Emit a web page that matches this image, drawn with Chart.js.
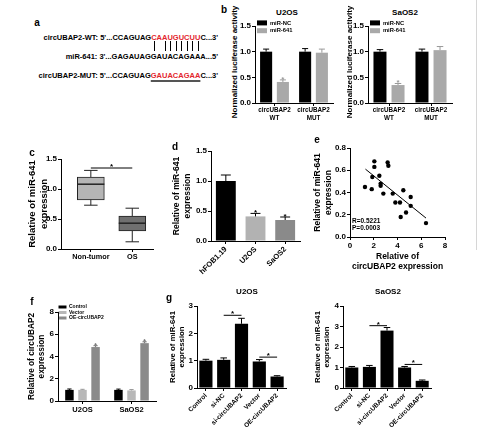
<!DOCTYPE html>
<html>
<head>
<meta charset="utf-8">
<script src="https://cdn.jsdelivr.net/npm/chart.js@4"></script>
<style>
body{margin:0;background:#fff;width:480px;height:427px;position:relative;overflow:hidden;font-family:"Liberation Sans",Arial,sans-serif;font-weight:bold;color:#000}
canvas{position:absolute}
.t{position:absolute;white-space:nowrap;line-height:1}
.seq{position:absolute;right:262px;font-size:7.5px;line-height:9px;white-space:nowrap}
.r{color:#e3262d}
.p{position:relative}
.p::after{content:'';position:absolute;left:50%;top:8px;height:10px;border-left:1px solid #000}
.u{text-decoration:underline;text-decoration-color:#555;text-decoration-thickness:1.5px;text-underline-offset:1.5px}
#edge{position:absolute;left:476px;top:0;width:1px;height:250px;background:#d6d6d6}
</style>
</head>
<body>
<div class="seq" style="top:33px">circUBAP2-WT: 5'...CCAGUAG<span class="r"><span class="p">C</span>A<span class="p">A</span><span class="p">U</span><span class="p">G</span><span class="p">U</span><span class="p">C</span><span class="p">U</span><span class="p">U</span></span>C...3'</div>
<div class="seq" style="top:52px">miR-641: 3'...GAGAUAGGAUACAGAAA...5'</div>
<div class="seq" style="top:71px">circUBAP2-MUT: 5'...CCAGUAG<span class="r u">GAUACAGAA</span>C...3'</div>
<div id="edge"></div>
<script>
const FONT = '"Liberation Sans", Arial, sans-serif';
Chart.defaults.font.family = FONT;
Chart.defaults.color = '#000';

// b: luciferase reporter
const lucGroups = [['circUBAP2', 'WT'], ['circUBAP2', 'MUT']];
const lucU2osNC = [1.0, 1.0];
const lucU2osNCErr = [0.05, 0.06];
const lucU2os641 = [0.41, 0.98];
const lucU2os641Err = [0.04, 0.07];
const lucSaosNC = [1.0, 1.0];
const lucSaosNCErr = [0.04, 0.05];
const lucSaos641 = [0.35, 1.03];
const lucSaos641Err = [0.03, 0.07];

// c: tissue box plot
const tissue = ['Non-tumor', 'OS'];
const boxMin = [0.73, 0.12];
const boxQ1 = [0.82, 0.30];
const boxMed = [1.08, 0.43];
const boxQ3 = [1.20, 0.55];
const boxMax = [1.31, 0.68];

// d: cell lines
const cellLines = ['hFOB1.19', 'U2OS', 'SaOS2'];
const cellExpr = [1.0, 0.41, 0.35];
const cellErr = [0.10, 0.05, 0.05];

// e: correlation
const corrX = [1.26, 1.88, 1.83, 2.05, 2.05, 2.47, 2.58, 2.58, 2.81, 3.17, 3.23, 3.6, 3.82, 4.21, 4.27, 4.49, 4.72, 5.11, 5.11, 6.4];
const corrY = [0.45, 0.54, 0.43, 0.68, 0.63, 0.55, 0.48, 0.46, 0.39, 0.67, 0.64, 0.39, 0.31, 0.31, 0.18, 0.42, 0.22, 0.36, 0.28, 0.125];
const fitX = [1.3, 6.4];
const fitY = [0.61, 0.17];

// f: overexpression
const oeCells = ['U2OS', 'SaOS2'];
const oeControl = [1.0, 1.0];
const oeControlErr = [0.08, 0.07];
const oeVector = [1.0, 0.95];
const oeVectorErr = [0.05, 0.08];
const oeCirc = [4.85, 5.2];
const oeCircErr = [0.12, 0.12];

// g: rescue
const gGroups = ['Control', 'si-NC', 'si-circUBAP2', 'Vector', 'OE-circUBAP2'];
const gU2os = [1.0, 1.03, 2.35, 0.97, 0.42];
const gU2osErr = [0.05, 0.07, 0.2, 0.07, 0.03];
const gSaos = [1.0, 1.03, 2.8, 1.0, 0.35];
const gSaosErr = [0.05, 0.07, 0.15, 0.05, 0.04];

const fnt = (size, lh) => ({family: FONT, weight: 'bold', size: size, lineHeight: lh || 1.2});

function star(ctx, x, y, color) {
  ctx.fillStyle = color;
  ctx.font = 'bold 8px ' + FONT;
  ctx.textAlign = 'center';
  ctx.textBaseline = 'alphabetic';
  ctx.fillText('*', x, y + 4);
}

// error bars, stars, whiskers and significance lines
const marks = {
  id: 'marks',
  afterDatasetsDraw(chart, args, opts) {
    const ctx = chart.ctx, ys = chart.scales.y, xs = chart.scales.x;
    ctx.save();
    ctx.lineWidth = 1;
    chart.data.datasets.forEach((ds, i) => {
      const bars = chart.getDatasetMeta(i).data;
      if (ds.err) bars.forEach((bar, j) => {
        const top = ys.getPixelForValue(ds.data[j] + ds.err[j]);
        const cap = bar.width * 0.25;
        const col = ds.errColor || '#000';
        ctx.strokeStyle = col;
        ctx.beginPath();
        ctx.moveTo(bar.x, bar.y);
        ctx.lineTo(bar.x, top);
        ctx.moveTo(bar.x - cap, top);
        ctx.lineTo(bar.x + cap, top);
        ctx.stroke();
        if (ds.star && ds.star[j]) star(ctx, bar.x, top - 2, col);
      });
      if (ds.whisker) bars.forEach((bar, j) => {
        const w = ds.whisker, cap = bar.width * 0.25, half = bar.width / 2;
        const p = v => ys.getPixelForValue(v);
        ctx.strokeStyle = '#222';
        ctx.beginPath();
        ctx.moveTo(bar.x, p(w.q3[j])); ctx.lineTo(bar.x, p(w.hi[j]));
        ctx.moveTo(bar.x - cap, p(w.hi[j])); ctx.lineTo(bar.x + cap, p(w.hi[j]));
        ctx.moveTo(bar.x, p(w.q1[j])); ctx.lineTo(bar.x, p(w.lo[j]));
        ctx.moveTo(bar.x - cap, p(w.lo[j])); ctx.lineTo(bar.x + cap, p(w.lo[j]));
        ctx.stroke();
        ctx.lineWidth = 1.5;
        ctx.beginPath();
        ctx.moveTo(bar.x - half, p(w.mid[j])); ctx.lineTo(bar.x + half, p(w.mid[j]));
        ctx.stroke();
        ctx.lineWidth = 1;
      });
    });
    (opts.sig || []).forEach(s => {
      const x1 = xs.getPixelForValue(s.a), x2 = xs.getPixelForValue(s.b), y = ys.getPixelForValue(s.v);
      ctx.strokeStyle = '#000';
      ctx.beginPath();
      ctx.moveTo(x1, y); ctx.lineTo(x2, y);
      ctx.stroke();
      star(ctx, (x1 + x2) / 2, y - 3, '#000');
    });
    ctx.restore();
  }
};

function yAx(max, step, title, tsize, dec) {
  return {
    min: 0, max: max,
    ticks: {stepSize: step, font: fnt(8), padding: 1, callback: v => dec ? v.toFixed(1) : String(v)},
    grid: {display: true, drawOnChartArea: false, tickLength: 3, color: '#000'},
    border: {display: true, color: '#000', width: 1},
    title: {display: !!title, text: title || '', font: fnt(tsize), padding: 0}
  };
}

function xAx(font, rot, extra) {
  return Object.assign({
    ticks: {font: font, padding: 1, minRotation: rot, maxRotation: rot, autoSkip: false},
    grid: {display: true, drawOnChartArea: false, tickLength: 3, color: '#000', offset: false},
    border: {display: true, color: '#000', width: 1}
  }, extra || {});
}

// plot = chart area on the page, m = room left for axes
function mk(plot, m, cfg) {
  const c = document.createElement('canvas');
  const left = Math.round(plot.l - m.l), top = Math.round(plot.t - m.t);
  const w = Math.round(plot.r + m.r) - left, h = Math.round(plot.b + m.b) - top;
  c.width = w; c.height = h;
  c.style.left = left + 'px'; c.style.top = top + 'px';
  c.style.width = w + 'px'; c.style.height = h + 'px';
  document.body.appendChild(c);
  const o = cfg.options;
  o.responsive = false;
  o.animation = false;
  o.devicePixelRatio = 1;
  o.events = [];
  o.layout = {padding: {left: 0, top: plot.t - top, right: left + w - plot.r, bottom: 0}};
  o.scales.y.afterFit = s => { s.width = plot.l - left; };
  o.scales.x.afterFit = s => { s.height = top + h - plot.b; };
  o.plugins = Object.assign({tooltip: {enabled: false}, legend: {display: false}}, o.plugins || {});
  cfg.plugins = [marks];
  return new Chart(c, cfg);
}

function txt(html, x, y, size, align) {
  const d = document.createElement('div');
  d.className = 't';
  d.innerHTML = html;
  d.style.fontSize = size + 'px';
  d.style.left = x + 'px';
  d.style.top = y + 'px';
  d.style.transform = align === 'left' ? 'translate(0,-50%)'
    : align === 'up' ? 'translate(-50%,-50%) rotate(-90deg)' : 'translate(-50%,-50%)';
  document.body.appendChild(d);
}

const chartLegend = (size, box, bh, pad) => ({
  display: true, position: 'chartArea', align: 'start',
  labels: {boxWidth: box, boxHeight: bh, padding: pad, font: fnt(size), color: '#000'}
});

// b
function lucChart(plot, ml, nc, ncErr, mir, mirErr) {
  mk(plot, {l: ml, t: 8, r: 6, b: 20}, {
    type: 'bar',
    data: {
      labels: lucGroups,
      datasets: [
        {label: 'miR-NC', data: nc, err: ncErr, backgroundColor: '#000', borderWidth: 0},
        {label: 'miR-641', data: mir, err: mirErr, star: [true, false], errColor: '#999', backgroundColor: '#a9a9a9', borderWidth: 0}
      ]
    },
    options: {
      datasets: {bar: {categoryPercentage: 0.86, barPercentage: 0.72}},
      scales: {
        x: xAx(fnt(6.3, 1.25), 0, {ticks: {font: fnt(6.3, 1.25), padding: 0, maxRotation: 0, autoSkip: false}}),
        y: yAx(1.5, 0.5, null, 7.5, true)
      },
      plugins: {legend: chartLegend(5.8, 10, 5, 2)}
    }
  });
}
lucChart({l: 255, r: 333, t: 26, b: 103}, 16, lucU2osNC, lucU2osNCErr, lucU2os641, lucU2os641Err);
lucChart({l: 368, r: 452, t: 26, b: 103}, 16, lucSaosNC, lucSaosNCErr, lucSaos641, lucSaos641Err);

// c
mk({l: 61, r: 153, t: 159, b: 249}, {l: 34, t: 8, r: 6, b: 16}, {
  type: 'bar',
  data: {
    datasets: [{
      data: tissue.map((n, i) => ({x: i, y: [boxQ1[i], boxQ3[i]]})),
      whisker: {lo: boxMin, q1: boxQ1, mid: boxMed, q3: boxQ3, hi: boxMax},
      backgroundColor: ['#b5b5b5', '#707070'],
      borderColor: '#222', borderWidth: 1, borderSkipped: false, barThickness: 27
    }]
  },
  options: {
    scales: {
      x: xAx(fnt(7.3), 0, {
        type: 'linear', min: -0.72, max: 1.5, offset: false,
        afterBuildTicks: s => { s.ticks = tissue.map((n, i) => ({value: i})); },
        ticks: {font: fnt(7.3), padding: 1, maxRotation: 0, autoSkip: false, callback: v => tissue[v]}
      }),
      y: yAx(1.5, 0.5, ['Relative of miR-641', 'expression'], 9.5, true)
    },
    plugins: {marks: {sig: [{a: 0, b: 1, v: 1.35}]}}
  }
});

// d
mk({l: 211, r: 300, t: 151, b: 241}, {l: 39, t: 8, r: 6, b: 45}, {
  type: 'bar',
  data: {
    labels: cellLines,
    datasets: [{data: cellExpr, err: cellErr, star: [false, true, true],
      backgroundColor: ['#000', '#b2b2b2', '#8a8a8a'], borderWidth: 0}]
  },
  options: {
    datasets: {bar: {categoryPercentage: 1, barPercentage: 0.67}},
    scales: {
      x: xAx(fnt(7.5), 45),
      y: yAx(1.5, 0.5, ['Relative of miR-641', 'expression'], 8.5, true)
    }
  }
});

// e
mk({l: 350, r: 445, t: 148, b: 237}, {l: 37, t: 8, r: 8, b: 35}, {
  type: 'scatter',
  data: {
    datasets: [
      {data: corrX.map((x, i) => ({x: x, y: corrY[i]})), backgroundColor: '#000', borderWidth: 0, pointRadius: 2.2},
      {type: 'line', data: fitX.map((x, i) => ({x: x, y: fitY[i]})), borderColor: '#000', borderWidth: 1, pointRadius: 0}
    ]
  },
  options: {
    scales: {
      x: {
        type: 'linear', min: 0, max: 8,
        ticks: {stepSize: 2, font: fnt(8), padding: 1},
        grid: {display: true, drawOnChartArea: false, tickLength: 3, color: '#000'},
        border: {display: true, color: '#000', width: 1},
        title: {display: true, text: ['Relative of', 'circUBAP2 expression'], font: fnt(8.5), padding: 0}
      },
      y: yAx(0.8, 0.2, ['Relative of miR-641', 'expression'], 8.5, true)
    }
  }
});

// f
mk({l: 58, r: 156, t: 312, b: 401}, {l: 31, t: 8, r: 6, b: 14}, {
  type: 'bar',
  data: {
    labels: oeCells,
    datasets: [
      {label: 'Control', data: oeControl, err: oeControlErr, backgroundColor: '#000', borderWidth: 0},
      {label: 'Vector', data: oeVector, err: oeVectorErr, errColor: '#999', backgroundColor: '#b8b8b8', borderWidth: 0},
      {label: 'OE-circUBAP2', data: oeCirc, err: oeCircErr, star: [true, true], errColor: '#777', backgroundColor: '#8a8a8a', borderWidth: 0}
    ]
  },
  options: {
    datasets: {bar: {categoryPercentage: 0.8, barPercentage: 0.65}},
    scales: {
      x: xAx(fnt(7.5), 0),
      y: yAx(8, 2, ['Relative of circUBAP2', 'expression'], 8.3, false)
    },
    plugins: {legend: chartLegend(5, 8, 3, 0.5)}
  }
});

// g
function gChart(plot, ml, vals, errs, max, sig) {
  mk(plot, {l: ml, t: 8, r: 6, b: 42}, {
    type: 'bar',
    data: {labels: gGroups, datasets: [{data: vals, err: errs, backgroundColor: '#000', borderWidth: 0}]},
    options: {
      datasets: {bar: {categoryPercentage: 1, barPercentage: 0.74}},
      scales: {
        x: xAx(fnt(6.5), 45),
        y: yAx(max, 1, ['Relative of miR-641', 'expression'], 7.8, false)
      },
      plugins: {marks: {sig: sig}}
    }
  });
}
gChart({l: 197, r: 286, t: 306, b: 388}, 29, gU2os, gU2osErr, 3, [{a: 1, b: 2, v: 2.66}, {a: 3, b: 4, v: 1.13}]);
gChart({l: 343, r: 431, t: 306, b: 388}, 30, gSaos, gSaosErr, 4, [{a: 1, b: 2, v: 3.04}, {a: 3, b: 4, v: 1.15}]);

// panel letters, titles and notes
txt('a', 37, 23, 10);
txt('b', 224, 10, 10);
txt('c', 32, 153, 10);
txt('d', 175, 147, 10);
txt('e', 317, 140, 10);
txt('f', 32, 302, 10);
txt('g', 169, 298, 10);
txt('U2OS', 287, 13, 8);
txt('SaOS2', 405, 13, 8);
txt('U2OS', 247, 292, 8);
txt('SaOS2', 388, 292, 8);
txt('Normalized luciferase activity', 235, 62, 8, 'up');
txt('Normalized luciferase activity', 350, 62, 8, 'up');
txt('R=0.5221', 352, 221, 6.5, 'left');
txt('P=0.0003', 352, 228, 6.5, 'left');
</script>
</body>
</html>
